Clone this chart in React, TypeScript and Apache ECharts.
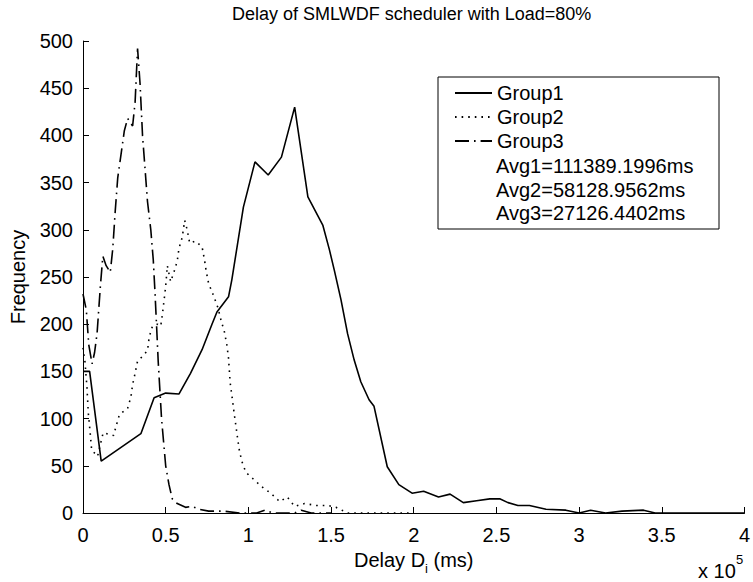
import React, { useEffect, useRef } from 'react';
import * as echarts from 'echarts';

// x values in units of 1e5 ms, y values = frequency
const g1X = [0, 0.04, 0.11, 0.35, 0.43, 0.5, 0.58, 0.65, 0.72, 0.78, 0.81, 0.88, 0.9, 0.97, 1.04, 1.12, 1.2, 1.28, 1.36, 1.45, 1.49, 1.52, 1.56, 1.6, 1.64, 1.68, 1.73, 1.76, 1.84, 1.91, 1.99, 2.06, 2.15, 2.22, 2.3, 2.38, 2.46, 2.52, 2.57, 2.63, 2.7, 2.8, 2.92, 3.0, 3.07, 3.16, 3.26, 3.39, 3.46, 3.6, 3.8, 4.0];
const g1Y = [150, 150, 55, 84, 122, 127, 126, 148, 173, 200, 213, 229, 247, 324, 372, 358, 377, 430, 335, 305, 279, 257, 226, 190, 162, 139, 120, 113, 49, 30, 21, 23, 17, 20, 11, 13, 15, 15, 11, 8, 8, 4, 3, 0, 3, 0, 2, 3, 0, 0, 0, 0];

const g2X = [0, 0.012, 0.024, 0.032, 0.045, 0.052, 0.088, 0.122, 0.185, 0.2, 0.22, 0.27, 0.29, 0.3, 0.315, 0.33, 0.36, 0.39, 0.4, 0.42, 0.45, 0.47, 0.48, 0.49, 0.5, 0.51, 0.53, 0.55, 0.57, 0.58, 0.6, 0.615, 0.63, 0.645, 0.68, 0.72, 0.735, 0.745, 0.76, 0.79, 0.815, 0.835, 0.855, 0.87, 0.88, 0.885, 0.89, 0.9, 0.91, 0.925, 0.935, 0.945, 0.96, 0.985, 1.03, 1.08, 1.135, 1.19, 1.235, 1.28, 1.34, 1.41, 1.48, 1.53, 1.6, 2.0];
const g2Y = [175, 160, 133, 106, 82, 67, 60, 85, 82, 92, 104, 111, 123, 136, 148, 161, 166, 172, 186, 198, 200, 198, 210, 225, 240, 262, 245, 255, 267, 280, 292, 310, 300, 286, 288, 282, 268, 256, 243, 230, 218, 204, 192, 178, 164, 151, 138, 125, 111, 92, 79, 67, 55, 43, 36, 28, 21, 12, 17, 7, 10, 8, 8, 6, 0, 0];

const g3X = [0, 0.02, 0.035, 0.055, 0.07, 0.085, 0.095, 0.105, 0.12, 0.14, 0.165, 0.18, 0.195, 0.21, 0.23, 0.25, 0.27, 0.3, 0.315, 0.33, 0.345, 0.36, 0.375, 0.39, 0.41, 0.425, 0.435, 0.445, 0.455, 0.465, 0.475, 0.49, 0.5, 0.52, 0.54, 0.57, 0.62, 0.66, 0.7, 0.76, 0.85, 0.95, 1.05, 1.1, 1.15, 1.28, 1.32, 1.38, 1.5];
const g3Y = [232, 215, 178, 158, 170, 190, 215, 240, 272, 262, 255, 280, 320, 355, 380, 405, 418, 410, 435, 492, 455, 400, 365, 330, 300, 268, 235, 198, 160, 130, 100, 70, 50, 30, 15, 10, 6, 7, 4, 2, 2, 0, 0, 3, 0, 0, 3, 0, 0];

const seriesNames = ['Group1', 'Group2', 'Group3'];
const avgLabels = ['Avg1=111389.1996ms', 'Avg2=58128.9562ms', 'Avg3=27126.4402ms'];
const titleText = 'Delay of SMLWDF scheduler with Load=80%';

export default function App() {
  const ref = useRef<HTMLDivElement>(null);
  useEffect(() => {
    document.body.style.margin = '0';
    const chart = echarts.init(ref.current!, null, { renderer: 'svg' });
    const font = 'Liberation Sans';
    const pair = (xs: number[], ys: number[]) => xs.map((x, i) => [x, ys[i]]);
    const lineTypes: any[] = ['solid', [1.6, 5], [14, 5, 1.6, 5]];
    const datas = [pair(g1X, g1Y), pair(g2X, g2Y), pair(g3X, g3Y)];
    chart.setOption({
      animation: false,
      backgroundColor: '#fff',
      textStyle: { fontFamily: font },
      title: {
        text: titleText,
        left: 232,
        top: 5,
        padding: 0,
        textStyle: { fontFamily: font, fontSize: 18, fontWeight: 'normal', color: '#000' },
      },
      grid: { left: 82, right: 6, top: 41, bottom: 69, containLabel: false },
      legend: {
        data: seriesNames,
        orient: 'vertical',
        left: 449,
        top: 78,
        itemWidth: 37,
        itemHeight: 20,
        itemGap: 4,
        selectedMode: false,
        itemStyle: { opacity: 0 },
        textStyle: { fontFamily: font, fontSize: 20, color: '#000' },
      },
      xAxis: {
        type: 'value',
        min: 0,
        max: 4,
        interval: 0.5,
        name: '{a|Delay D}{b|i}{a| (ms)}',
        nameLocation: 'middle',
        nameGap: 30,
        nameTextStyle: {
          color: '#000',
          fontFamily: font,
          rich: {
            a: { fontSize: 20, lineHeight: 30, fontFamily: font, color: '#000' },
            b: { fontSize: 13, lineHeight: 13, verticalAlign: 'bottom', fontFamily: font, color: '#000' },
          },
        },
        axisLine: { lineStyle: { color: '#000', width: 1 } },
        axisTick: { inside: true, length: 6, lineStyle: { color: '#000' } },
        axisLabel: { color: '#000', fontSize: 20, fontFamily: font, margin: 12 },
        splitLine: { show: false },
      },
      yAxis: {
        type: 'value',
        min: 0,
        max: 500,
        interval: 50,
        name: 'Frequency',
        nameLocation: 'middle',
        nameGap: 55,
        nameTextStyle: { color: '#000', fontSize: 20, fontFamily: font },
        axisLine: { show: true, lineStyle: { color: '#000', width: 1 } },
        axisTick: { show: true, inside: true, length: 6, lineStyle: { color: '#000' } },
        axisLabel: { color: '#000', fontSize: 20, fontFamily: font, margin: 10 },
        splitLine: { show: false },
      },
      series: seriesNames.map((name, i) => ({
        name,
        type: 'line',
        data: datas[i],
        symbol: 'none',
        z: 2,
        itemStyle: { color: '#000' },
        lineStyle: { color: '#000', width: 1.6, type: lineTypes[i] },
      })),
      graphic: [
        {
          type: 'rect',
          z: 3,
          shape: { x: 438, y: 77, width: 281, height: 152 },
          style: { fill: '#fff', stroke: '#000', lineWidth: 1 },
        },
        ...avgLabels.map((t, i) => ({
          type: 'text',
          z: 5,
          x: 496,
          y: 166 + i * 23.5,
          style: { text: t, fill: '#000', font: `20px "${font}"`, textVerticalAlign: 'middle' },
        })),
        {
          type: 'text',
          z: 5,
          x: 698,
          y: 561,
          style: { text: 'x 10', fill: '#000', font: `20px "${font}"`, textVerticalAlign: 'top' },
        },
        {
          type: 'text',
          z: 5,
          x: 736,
          y: 553,
          style: { text: '5', fill: '#000', font: `13px "${font}"`, textVerticalAlign: 'top' },
        },
      ],
    });
    return () => chart.dispose();
  }, []);
  return <div ref={ref} style={{ width: 753, height: 582 }} />;
}
